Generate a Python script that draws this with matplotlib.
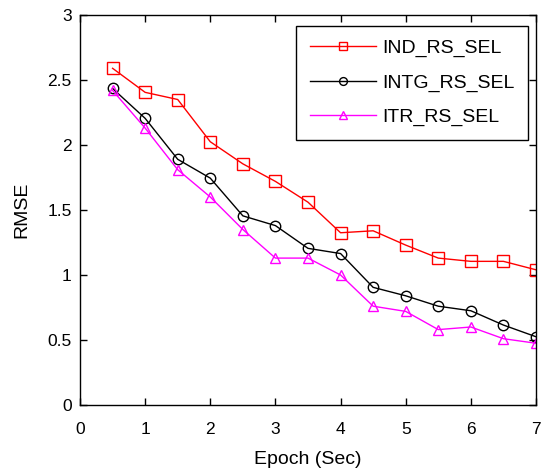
import numpy as np
import matplotlib
matplotlib.use("Agg")
import matplotlib.pyplot as plt

plt.rcParams['font.family'] = ['Liberation Sans', 'DejaVu Sans']

# epoch values (sec)
epoch = [0.5, 1, 1.5, 2, 2.5, 3, 3.5, 4, 4.5, 5, 5.5, 6, 6.5, 7]

ind_rs_sel = [2.59, 2.405, 2.35, 2.025, 1.855, 1.72, 1.56, 1.325, 1.34, 1.23, 1.13, 1.105, 1.105, 1.04]
intg_rs_sel = [2.435, 2.205, 1.89, 1.745, 1.455, 1.38, 1.205, 1.165, 0.905, 0.84, 0.76, 0.725, 0.615, 0.525]
itr_rs_sel = [2.42, 2.13, 1.81, 1.60, 1.35, 1.13, 1.13, 1.0, 0.76, 0.72, 0.58, 0.60, 0.51, 0.475]

fig = plt.figure(figsize=(5.43, 4.73), dpi=100)
ax = fig.add_axes([80/543, 1 - 405/473, 456/543, 390/473])

ax.plot(epoch, ind_rs_sel, color='red', marker='s', markersize=8, markerfacecolor='none',
        markeredgewidth=1, linewidth=1, label='IND_RS_SEL')
ax.plot(epoch, intg_rs_sel, color='black', marker='o', markersize=7.5, markerfacecolor='none',
        markeredgewidth=1, linewidth=1, label='INTG_RS_SEL')
ax.plot(epoch, itr_rs_sel, color='magenta', marker='^', markersize=7, markerfacecolor='none',
        markeredgewidth=1, linewidth=1, label='ITR_RS_SEL')

ax.set_xlim(0, 7)
ax.set_ylim(0, 3)
ax.set_xticks(range(0, 8))
ax.set_yticks([0, 0.5, 1, 1.5, 2, 2.5, 3])
ax.set_yticklabels(['0', '0.5', '1', '1.5', '2', '2.5', '3'])
ax.tick_params(direction='in', top=True, right=True, length=5, width=1, labelsize=12.5)
ax.tick_params(axis='x', pad=12)
ax.tick_params(axis='y', pad=6)
for s in ax.spines.values():
    s.set_linewidth(1)

ax.set_xlabel('Epoch (Sec)', fontsize=14, labelpad=10)
ax.set_ylabel('RMSE', fontsize=14, labelpad=12)

leg = ax.legend(loc='upper right', bbox_to_anchor=(1 - 8/456, 1 - 11/390), fontsize=14,
                fancybox=False, edgecolor='black', framealpha=1, handlelength=3.4,
                handletextpad=0.3, markerscale=0.75,
                borderaxespad=0, labelspacing=0.85, borderpad=0.7)
leg.get_frame().set_linewidth(1)

fig.savefig('out.png', dpi=100)
